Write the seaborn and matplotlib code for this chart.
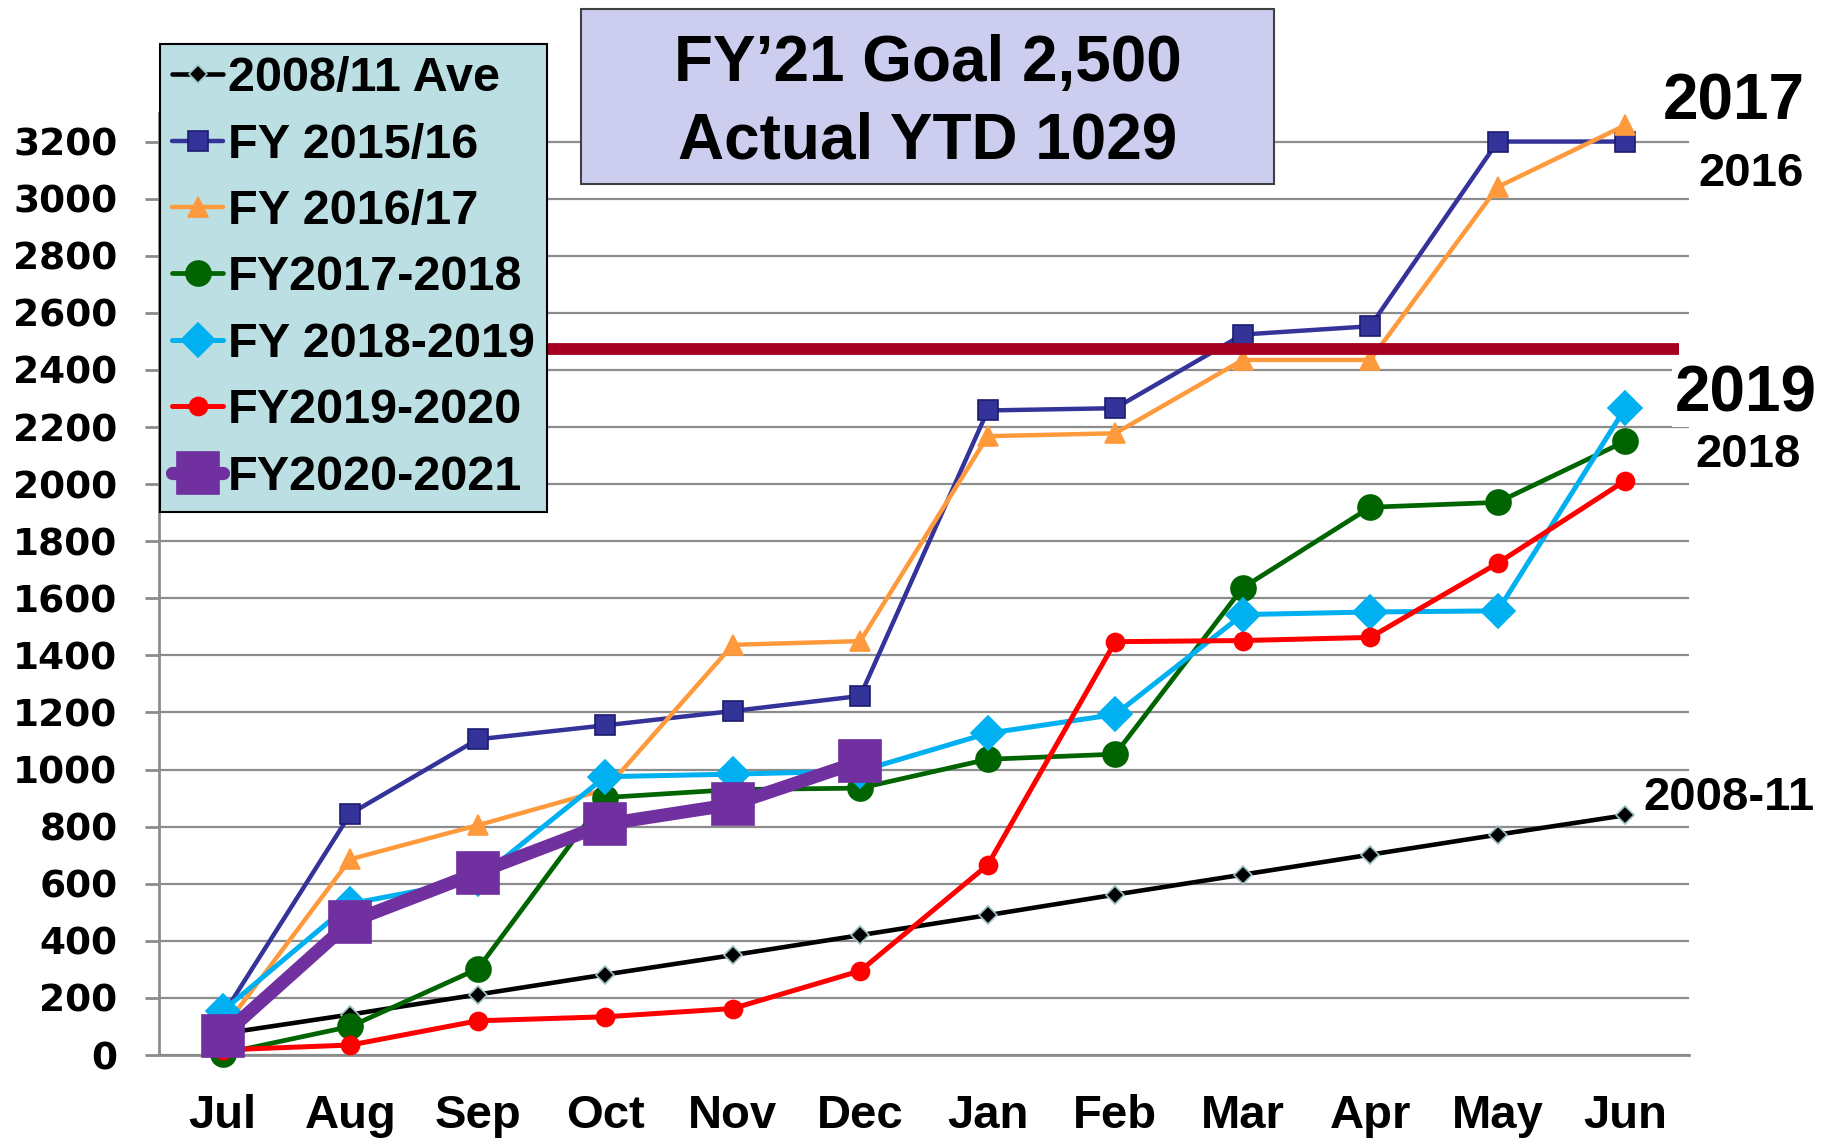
import matplotlib
matplotlib.use("Agg")
import matplotlib.pyplot as plt
from matplotlib.patches import Rectangle
import numpy as np
import seaborn as sns

# month axis and cumulative counts per fiscal year
MONTHS = ["Jul", "Aug", "Sep", "Oct", "Nov", "Dec",
          "Jan", "Feb", "Mar", "Apr", "May", "Jun"]
AVE_0811 = [75, 142, 212, 282, 350, 420, 490, 562, 632, 702, 772, 840]
FY1516 = [140, 845, 1106, 1155, 1205, 1258, 2258, 2266, 2524, 2553, 3200, 3200]
FY1617 = [90, 686, 805, 930, 1437, 1450, 2168, 2178, 2435, 2435, 3041, 3257]
FY1718 = [5, 100, 302, 902, 930, 935, 1036, 1054, 1637, 1919, 1936, 2150]
FY1819 = [155, 530, 615, 975, 984, 995, 1127, 1193, 1543, 1552, 1556, 2266]
FY1920 = [18, 35, 120, 134, 163, 295, 666, 1448, 1452, 1463, 1723, 2012]
FY2021 = [67, 467, 639, 809, 878, 1029]
GOAL_LINE = 2475
Y_TICKS = list(range(0, 3201, 200))

sns.set_theme(style="white")
plt.rcParams["font.family"] = ["Liberation Sans", "DejaVu Sans"]
plt.rcParams["font.weight"] = "bold"
plt.rcParams["text.color"] = "black"

fig = plt.figure(figsize=(18.22, 11.38), dpi=100)
ax = fig.add_axes([0.0873, 0.0729, 0.927 - 0.0873, 0.9007 - 0.0729])

# (label, values, colour, marker, markersize, linewidth, edgecolour)
series = [
    ("2008/11 Ave", AVE_0811, "#000000", "D", 9, 3.3, "#9CC3C6"),
    ("FY 2015/16", FY1516, "#333399", "s", 14, 3.2, "#1C1C6E"),
    ("FY 2016/17", FY1617, "#FF9A3C", "^", 14, 3.2, "#FF9A3C"),
    ("FY2017-2018", FY1718, "#006400", "o", 18, 3.4, "#006400"),
    ("FY 2018-2019", FY1819, "#00B0F0", "D", 17, 3.6, "#00B0F0"),
    ("FY2019-2020", FY1920, "#FF0000", "o", 13, 3.6, "#FF0000"),
    ("FY2020-2021", FY2021, "#7030A0", "s", 30, 9.5, "#7030A0"),
]

handles = []
for i, (lab, vals, col, mk, ms, lw, ec) in enumerate(series):
    x = np.arange(len(vals))
    sns.lineplot(x=x, y=vals, ax=ax, color=col, marker=mk, markersize=ms,
                 linewidth=lw, markeredgecolor=ec, markeredgewidth=1.2,
                 clip_on=False, zorder=3 + i if i < 6 else 12)
    handles.append(ax.lines[-1])

# goal line
ax.hlines(GOAL_LINE, -0.5, 11.42, color="#A50021", linewidth=8.5, zorder=10)

ax.set_xlim(-0.5, 11.5)
ax.set_ylim(0, 3300)
ax.set_xticks(range(len(MONTHS)))
ax.set_xticklabels(MONTHS)
ax.set_xticks(np.arange(-0.5, 12, 1), minor=True)
ax.set_yticks(Y_TICKS)
ax.set_yticklabels([str(v) for v in Y_TICKS], family="DejaVu Sans",
                   fontweight="bold", fontsize=27)
for t in ax.get_xticklabels():
    t.set_fontsize(34)
    t.set_fontweight("bold")

ax.tick_params(axis="x", which="major", length=0, pad=28, labelcolor="black")
ax.tick_params(axis="x", which="minor", length=10, width=2, color="#8C8C8C",
               direction="out")
ax.tick_params(axis="y", length=10, width=2, color="#8C8C8C", pad=20,
               direction="out", left=True, labelcolor="black")
ax.yaxis.grid(True, color="#8C8C8C", linewidth=1.6)
ax.xaxis.grid(False)
for side in ("top", "right"):
    ax.spines[side].set_visible(False)
for side in ("left", "bottom"):
    ax.spines[side].set_color("#8C8C8C")
    ax.spines[side].set_linewidth(2)
ax.set_xlabel("")
ax.set_ylabel("")

leg = fig.legend(handles, [s[0] for s in series], loc="upper left",
                 bbox_to_anchor=(0.0878, 0.9613), borderaxespad=0,
                 prop={"family": "Liberation Sans", "weight": "bold", "size": 35},
                 frameon=True, fancybox=False, facecolor="#BBDFE3",
                 edgecolor="#000000", framealpha=1, handlelength=1.05,
                 handletextpad=0.1, borderpad=0.25, labelspacing=0.44,
                 markerscale=1.0, labelcolor="black")
leg.get_frame().set_linewidth(1.5)
leg.set_zorder(20)

# title box
fig.patches.append(Rectangle((0.3189, 0.8383), 0.3803, 0.1538,
                             transform=fig.transFigure, facecolor="#CDCDF0",
                             edgecolor="#404040", linewidth=1.5, zorder=15))
fig.text(0.509, 0.944, "FY\u201921 Goal 2,500", ha="center", va="center",
         fontsize=46, fontweight="bold", zorder=16)
fig.text(0.509, 0.876, "Actual YTD 1029", ha="center", va="center",
         fontsize=46, fontweight="bold", zorder=16)

# labels at the right end of the lines
white = dict(facecolor="white", edgecolor="none", pad=2)
fig.text(0.9906, 0.910, "2017", ha="right", va="center", fontsize=46,
         fontweight="bold", bbox=white)
fig.text(0.9900, 0.847, "2016", ha="right", va="center", fontsize=34,
         fontweight="bold", bbox=white)
fig.text(0.9970, 0.653, "2019", ha="right", va="center", fontsize=46,
         fontweight="bold", bbox=white)
fig.text(0.9885, 0.600, "2018", ha="right", va="center", fontsize=34,
         fontweight="bold", bbox=white)
fig.text(0.9960, 0.299, "2008-11", ha="right", va="center", fontsize=34,
         fontweight="bold", bbox=white)

fig.savefig("out.png", dpi=100)
